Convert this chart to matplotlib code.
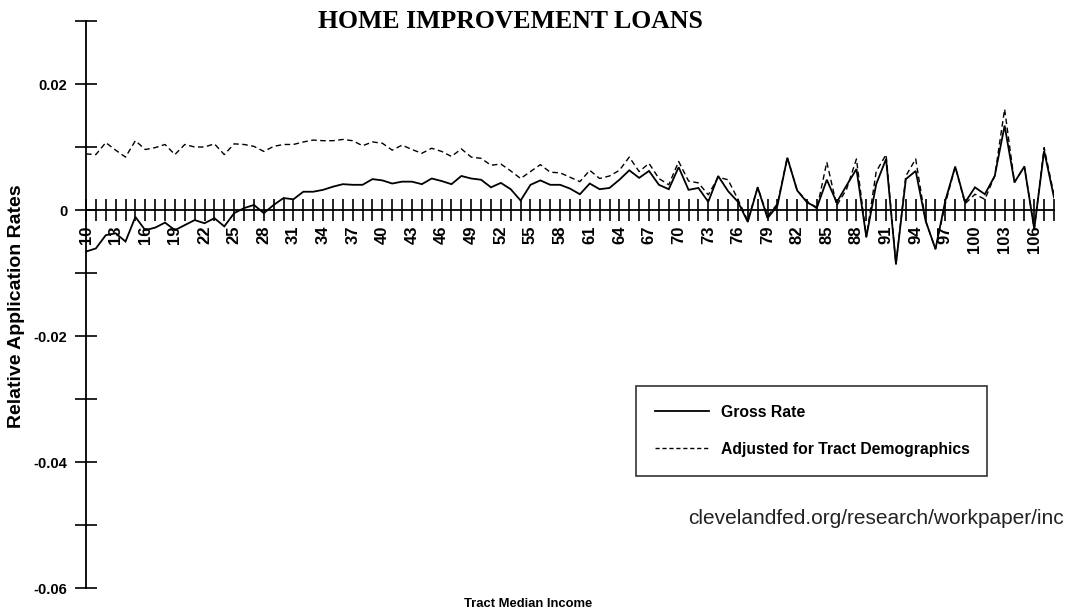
import matplotlib
matplotlib.use("Agg")
import matplotlib.pyplot as plt
from matplotlib.lines import Line2D

income = list(range(10, 109))

gross_rate = [
    -0.0066, -0.0061, -0.0040, -0.0037, -0.0050, -0.0011, -0.0032, -0.0028, -0.0020, -0.0032,
    -0.0024, -0.0016, -0.0021, -0.0013, -0.0026, -0.0005, 0.0003, 0.0008, -0.0005, 0.0008,
    0.0019, 0.0017, 0.0029, 0.0029, 0.0032, 0.0037, 0.0041, 0.0040, 0.0040, 0.0049,
    0.0047, 0.0042, 0.0045, 0.0045, 0.0041, 0.0050, 0.0046, 0.0041, 0.0054, 0.0050,
    0.0048, 0.0036, 0.0043, 0.0033, 0.0015, 0.0040, 0.0047, 0.0040, 0.0040, 0.0034,
    0.0025, 0.0042, 0.0033, 0.0035, 0.0048, 0.0063, 0.0051, 0.0062, 0.0040, 0.0033,
    0.0068, 0.0032, 0.0035, 0.0013, 0.0054, 0.0030, 0.0013, -0.0019, 0.0036, -0.0013,
    0.0007, 0.0083, 0.0031, 0.0012, 0.0004, 0.0048, 0.0012, 0.0039, 0.0065, -0.0043,
    0.0041, 0.0081, -0.0086, 0.0049, 0.0062, -0.0017, -0.0062, 0.0015, 0.0069, 0.0012,
    0.0036, 0.0025, 0.0054, 0.0134, 0.0044, 0.0069, -0.0030, 0.0094, 0.0020,
]

adjusted_rate = [
    0.0089, 0.0088, 0.0107, 0.0095, 0.0084, 0.0110, 0.0096, 0.0099, 0.0104, 0.0088,
    0.0104, 0.0100, 0.0100, 0.0105, 0.0088, 0.0105, 0.0104, 0.0101, 0.0093, 0.0101,
    0.0104, 0.0104, 0.0108, 0.0111, 0.0110, 0.0110, 0.0112, 0.0110, 0.0102, 0.0108,
    0.0106, 0.0095, 0.0103, 0.0096, 0.0090, 0.0098, 0.0093, 0.0085, 0.0097, 0.0084,
    0.0082, 0.0071, 0.0073, 0.0062, 0.0050, 0.0061, 0.0072, 0.0060, 0.0059, 0.0052,
    0.0045, 0.0063, 0.0050, 0.0054, 0.0063, 0.0084, 0.0061, 0.0074, 0.0050, 0.0040,
    0.0077, 0.0046, 0.0043, 0.0024, 0.0052, 0.0048, 0.0017, -0.0017, 0.0036, -0.0010,
    0.0010, 0.0083, 0.0031, 0.0014, 0.0002, 0.0076, 0.0007, 0.0033, 0.0081, -0.0043,
    0.0061, 0.0088, -0.0086, 0.0054, 0.0081, -0.0017, -0.0062, 0.0010, 0.0069, 0.0010,
    0.0025, 0.0017, 0.0054, 0.0160, 0.0044, 0.0069, -0.0030, 0.0099, 0.0024,
]

y_ticks = [0.03, 0.02, 0.01, 0.0, -0.01, -0.02, -0.03, -0.04, -0.05, -0.06]
y_labels = ["", "0.02", "", "0", "", "-0.02", "", "-0.04", "", "-0.06"]

title = "HOME IMPROVEMENT LOANS"
series_names = ["Gross Rate", "Adjusted for Tract Demographics"]

plt.rcParams["font.family"] = ["Liberation Sans", "DejaVu Sans"]

fig = plt.figure(figsize=(10.67, 6.13), dpi=100)
ax = fig.add_axes([86 / 1067, 1 - 588 / 613, 968 / 1067, 567 / 613])

ax.plot(income, gross_rate, color="black", lw=1.3, solid_joinstyle="miter")
ax.plot(income, adjusted_rate, color="black", lw=1.0, linestyle=(0, (4, 2.5)))

ax.set_xlim(10, 108)
ax.set_ylim(-0.06, 0.03)

for s in ["top", "right"]:
    ax.spines[s].set_visible(False)
ax.spines["bottom"].set_position(("data", 0))
ax.spines["left"].set_linewidth(1.3)
ax.spines["bottom"].set_linewidth(1.3)

ax.set_xticks(income)
ax.set_xticklabels([str(v) if (v - 10) % 3 == 0 else "" for v in income],
                   rotation=90, fontsize=12, fontweight="bold")
ax.tick_params(axis="x", direction="inout", length=16, width=1.2, pad=3)
for lbl in ax.get_xticklabels():
    lbl.set_verticalalignment("top")

ax.set_yticks(y_ticks)
ax.set_yticklabels(y_labels, fontsize=10.5, fontweight="bold")
ax.tick_params(axis="y", direction="inout", length=16, width=1.2, pad=5.5)

fig.text(510 / 1067, 1 - 22 / 613, title, ha="center", va="center",
         fontsize=18.5, fontweight="bold", family="Liberation Serif")
fig.text(17 / 1067, 1 - 306 / 613, "Relative Application Rates", rotation=90,
         ha="center", va="center", fontsize=14, fontweight="bold")
fig.text(528 / 1067, 1 - 604 / 613, "Tract Median Income", ha="center", va="center",
         fontsize=9.4, fontweight="bold")
fig.text(688 / 1067, 1 - 518 / 613, "clevelandfed.org/research/workpaper/inc",
         ha="left", va="center", fontsize=15, color="#222222")

handles = [Line2D([], [], color="black", lw=1.3),
           Line2D([], [], color="black", lw=1.0, linestyle=(0, (3, 2)))]
x0 = (636 - 86) / 968
x1 = (987 - 86) / 968
y0 = (588 - 476) / 567
y1 = (588 - 384) / 567
leg = ax.legend(handles, series_names, loc="lower left",
                bbox_to_anchor=(x0, y0, x1 - x0, y1 - y0), mode="expand",
                fancybox=False, frameon=True, edgecolor="black",
                handlelength=3.4, handletextpad=0.8, labelspacing=1.4,
                borderpad=1.22, borderaxespad=0,
                prop={"weight": "bold", "size": 11.3})
leg.get_frame().set_linewidth(1.2)

fig.savefig("out.png", dpi=100)
